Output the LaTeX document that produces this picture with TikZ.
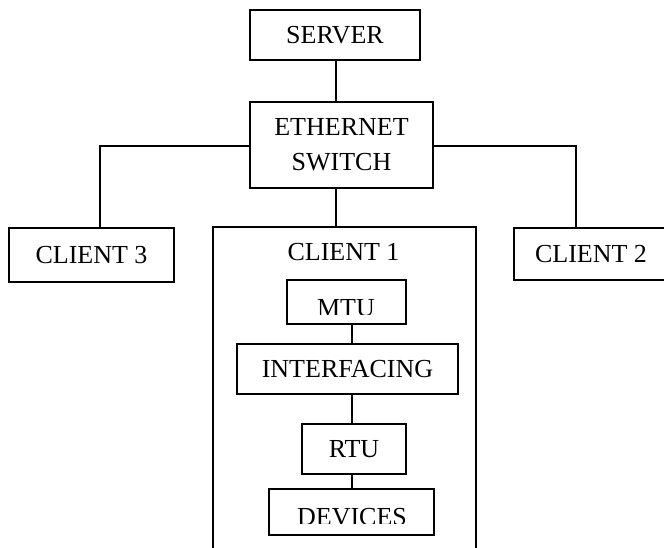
\documentclass[tikz,border=0pt]{standalone}
\usepackage{fontspec}
\setmainfont{Liberation Serif}
\begin{document}
\begin{tikzpicture}[x=1pt,y=-1pt,
  box/.style={draw=black, line width=1.6pt, inner sep=0pt, font=\fontsize{26}{35}\selectfont, align=center},
  lbl/.style={inner sep=0pt, font=\fontsize{26}{35}\selectfont, align=center},
  wire/.style={draw=black, line width=1.6pt}]
\useasboundingbox (0,0) rectangle (664,548);
\clip (0,0) rectangle (664,548);
% top level
\node[box, minimum width=170pt, minimum height=50pt] (srv) at (335,35) {SERVER};
\node[box, minimum width=183pt, minimum height=86pt] (eth) at (341.5,145) {ETHERNET\\SWITCH};
\node[box, minimum width=165pt, minimum height=54pt] (c3) at (91.5,255) {CLIENT 3};
\node[box, minimum width=154pt, minimum height=52pt] (c2) at (591,254) {CLIENT 2};
\node[box, minimum width=263pt, minimum height=333pt] (c1) at (344.5,393.5) {};
\node[lbl] (c1t) at (343.5,252.5) {CLIENT 1};
% inner boxes
\node[box, minimum width=119pt, minimum height=44pt] (mtu) at (346.5,302) {};
\node[box, minimum width=221pt, minimum height=50pt] (intf) at (347.5,369) {INTERFACING};
\node[box, minimum width=104pt, minimum height=50pt] (rtu) at (354,449) {RTU};
\node[box, minimum width=165pt, minimum height=46pt] (dev) at (351.5,512) {};
\begin{scope}
  \clip (287,280) rectangle (406,314);
  \node[lbl, anchor=base] (mtut) at (346,316) {MTU};
\end{scope}
\begin{scope}
  \clip (269,489) rectangle (434,523);
  \node[lbl, anchor=base] (devt) at (352,525.5) {DEVICES};
\end{scope}
% connectors
\coordinate (ax) at (336,0);
\coordinate (bx) at (352,0);
\coordinate (c3top) at (100,228);
\coordinate (c2top) at (576,228);
\draw[wire] (srv.south -| ax) -- (eth.north -| ax);
\draw[wire] (eth.south -| ax) -- (c1.north -| ax);
\draw[wire] (eth.west |- 0,146) -| (c3top);
\draw[wire] (eth.east |- 0,146) -| (c2top);
\draw[wire] (mtu.south -| bx) -- (intf.north -| bx);
\draw[wire] (intf.south -| bx) -- (rtu.north -| bx);
\draw[wire] (rtu.south -| bx) -- (dev.north -| bx);
\end{tikzpicture}
\end{document}
